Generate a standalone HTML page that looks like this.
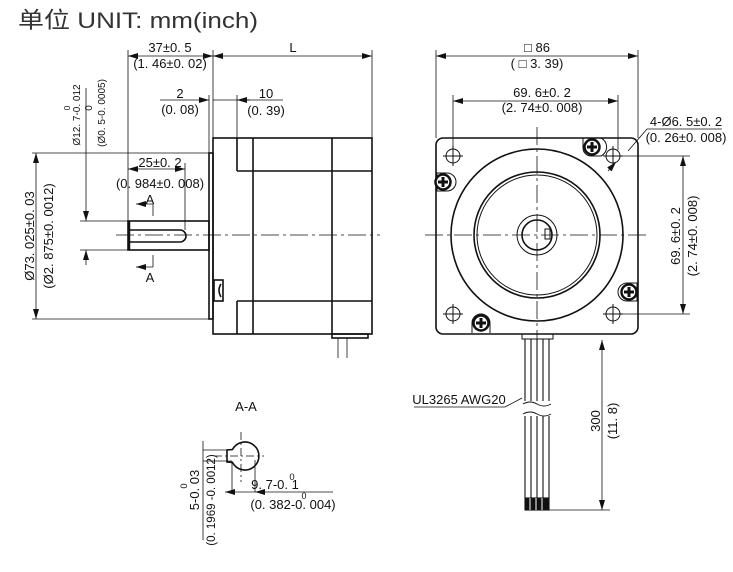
<!DOCTYPE html>
<html><head><meta charset="utf-8"><style>
html,body{margin:0;padding:0;background:#fff;width:733px;height:572px;overflow:hidden}
svg{display:block}
text{font-family:"Liberation Sans","Noto Sans CJK SC",sans-serif;fill:#111}
</style></head><body>
<svg width="733" height="572" viewBox="0 0 733 572" xmlns="http://www.w3.org/2000/svg">
<defs>
<marker id="ar" viewBox="0 0 10 6" refX="10" refY="3" markerWidth="10" markerHeight="6" orient="auto-start-reverse" markerUnits="userSpaceOnUse"><path d="M0,0 L10,3 L0,6z" fill="#111"/></marker>
</defs>
<text x="18" y="28" font-size="22.5" fill="#333" style="fill:#333" textLength="240" lengthAdjust="spacingAndGlyphs">单位 UNIT: mm(inch)</text>

<g stroke="#111" fill="none" stroke-width="0.8">
<line x1="128" y1="50" x2="128" y2="221"/>
<line x1="213" y1="50" x2="213" y2="138"/>
<line x1="372" y1="50" x2="372" y2="138"/>
<line x1="128" y1="56" x2="213" y2="56" marker-start="url(#ar)" marker-end="url(#ar)"/>
<line x1="213" y1="56" x2="372" y2="56" marker-start="url(#ar)" marker-end="url(#ar)"/>
<line x1="160" y1="100" x2="209" y2="100" marker-end="url(#ar)"/>
<line x1="213" y1="100" x2="250" y2="100"/>
<line x1="237" y1="100" x2="283" y2="100"/>
<line x1="250" y1="100" x2="237" y2="100" marker-end="url(#ar)"/>
<line x1="209" y1="95" x2="209" y2="153"/>
<line x1="237" y1="95" x2="237" y2="138"/>
<line x1="128" y1="169" x2="185" y2="169" marker-start="url(#ar)" marker-end="url(#ar)"/>
<line x1="185" y1="163" x2="185" y2="230"/>
<line x1="32" y1="153" x2="209" y2="153"/>
<line x1="32" y1="319" x2="209" y2="319"/>
<line x1="36" y1="153" x2="36" y2="319" marker-start="url(#ar)" marker-end="url(#ar)"/>
<line x1="80" y1="221" x2="128" y2="221"/>
<line x1="80" y1="250" x2="128" y2="250"/>
<line x1="86" y1="88" x2="86" y2="221" marker-end="url(#ar)"/>
<line x1="86" y1="265" x2="86" y2="250" marker-end="url(#ar)"/>
<line x1="116" y1="235" x2="380" y2="235" stroke-dasharray="18,4,3,4"/>
<line x1="136" y1="204" x2="153" y2="204" marker-start="url(#ar)"/>
<line x1="153" y1="204" x2="153" y2="216"/>
<line x1="136" y1="267" x2="153" y2="267" marker-start="url(#ar)"/>
<line x1="153" y1="255" x2="153" y2="267"/>
</g>
<g stroke="#111" fill="none" stroke-width="1.6">
<rect x="213" y="138" width="159" height="196"/>
<rect x="209" y="153" width="4" height="166"/>
<line x1="237" y1="138" x2="237" y2="171"/>
<line x1="237" y1="171" x2="372" y2="171"/>
<line x1="237" y1="301" x2="237" y2="334"/>
<line x1="237" y1="301" x2="372" y2="301"/>
<line x1="253" y1="138" x2="253" y2="334"/>
<line x1="332" y1="138" x2="332" y2="334"/>
<rect x="332" y="334" width="36" height="4"/>
<rect x="214" y="280" width="9" height="21"/>
<path d="M221 284 q-4 6 0 13"/>
<rect x="128" y="221" width="81" height="29"/>
<path d="M128 230 H180 a6 6 0 0 1 0 12 H128"/>
<line x1="129" y1="221" x2="129" y2="250" stroke-width="2.5"/>
</g>
<g stroke="#111" fill="none" stroke-width="0.8">
<line x1="338" y1="338" x2="338" y2="358"/><line x1="347" y1="338" x2="347" y2="358"/>
</g>
<g font-size="13" text-anchor="middle">
<text x="170" y="52">37±0. 5</text>
<text x="170" y="68">(1. 46±0. 02)</text>
<text x="293" y="52">L</text>
<text x="180" y="98">2</text>
<text x="180" y="114">(0. 08)</text>
<text x="266" y="98">10</text>
<text x="266" y="115">(0. 39)</text>
<text x="160" y="167">25±0. 2</text>
<text x="160" y="188">(0. 984±0. 008)</text>
<text x="150" y="204">A</text>
<text x="150" y="282">A</text>
<text transform="translate(34,236) rotate(-90)">Ø73. 025±0. 03</text>
<text transform="translate(53,236) rotate(-90)">(Ø2. 875±0. 0012)</text>
<text transform="translate(80,115) rotate(-90)" font-size="10">Ø12. 7-0. 012</text>
<text transform="translate(70,108) rotate(-90)" font-size="8.5">0</text>
<text transform="translate(92,108) rotate(-90)" font-size="10">0</text>
<text transform="translate(105,113) rotate(-90)" font-size="10">(Ø0. 5-0. 0005)</text>
</g>

<g stroke="#111" fill="none" stroke-width="0.8">
<line x1="436" y1="50" x2="436" y2="138"/>
<line x1="638" y1="50" x2="638" y2="138"/>
<line x1="436" y1="56" x2="638" y2="56" marker-start="url(#ar)" marker-end="url(#ar)"/>
<line x1="453" y1="95" x2="453" y2="150"/>
<line x1="618" y1="95" x2="618" y2="150"/>
<line x1="453" y1="101" x2="618" y2="101" marker-start="url(#ar)" marker-end="url(#ar)"/>
<line x1="618" y1="156" x2="690" y2="156"/>
<line x1="618" y1="314" x2="690" y2="314"/>
<line x1="683" y1="156" x2="683" y2="314" marker-start="url(#ar)" marker-end="url(#ar)"/>
<line x1="425" y1="235" x2="650" y2="235" stroke-dasharray="18,4,3,4"/>
<line x1="537" y1="127" x2="537" y2="345" stroke-dasharray="18,4,3,4"/>
<path d="M722 129 H647 L628 151"/>
<line x1="608" y1="171" x2="616" y2="162" marker-end="url(#ar)"/>
<line x1="549" y1="510" x2="610" y2="510"/>
<line x1="602" y1="340" x2="602" y2="510" marker-start="url(#ar)" marker-end="url(#ar)"/>
<path d="M414 407 H505 L522 398"/>
</g>
<g stroke="#111" fill="none" stroke-width="1.6">
<rect x="436" y="138" width="202" height="196" rx="7"/>
<circle cx="537" cy="235" r="86"/>
<circle cx="537" cy="235" r="63"/>
<circle cx="537" cy="235" r="60" stroke-width="1"/>
<circle cx="537" cy="235" r="20" stroke-width="1"/>
<circle cx="537" cy="235" r="15"/>
<rect x="545" y="229" width="5" height="10" stroke-width="1"/>
<rect x="522" y="334" width="31" height="5" stroke-width="1"/>
</g>
<g stroke="#111" fill="none" stroke-width="1">
<circle cx="453" cy="156" r="7"/><circle cx="613" cy="156" r="7"/>
<circle cx="453" cy="314" r="7"/><circle cx="613" cy="314" r="7"/>
<path d="M443 156h20M453 146v20M603 156h20M613 146v20M443 314h20M453 304v20M603 314h20M613 304v20"/>
<path d="M583 139 v-1 h18 a10 10 0 0 1 0 18 h-10 a8 8 0 0 1 -8 -8z"/>
<path d="M437 173 h10 a9 9 0 0 1 0 18 h-10z"/>
<path d="M637 283 h-10 a9 9 0 0 0 0 18 h10z"/>
<path d="M472 333 v-10 a9 9 0 0 1 18 0 v10"/>
</g>
<g>
<circle cx="592" cy="147" r="7.5" fill="#fff" stroke="#111" stroke-width="2.5"/>
<circle cx="443" cy="182" r="7.5" fill="#fff" stroke="#111" stroke-width="2.5"/>
<circle cx="629" cy="292" r="7.5" fill="#fff" stroke="#111" stroke-width="2.5"/>
<circle cx="481" cy="323" r="7.5" fill="#fff" stroke="#111" stroke-width="2.5"/>
<path d="M587 147h10M592 142v10M438 182h10M443 177v10M624 292h10M629 287v10M476 323h10M481 318v10" stroke="#111" stroke-width="3"/>
</g>
<g stroke="#111" stroke-width="1.1">
<path d="M525 339V401M531 339V401M537 339V401M543 339V401M549 339V401"/>
<path d="M525 416V498M531 416V498M537 416V498M543 416V498M549 416V498"/>
<path d="M523 404 q7 -4 14 0 q7 4 14 0M523 414 q7 -4 14 0 q7 4 14 0" fill="none" stroke-width="0.9"/>
<rect x="525" y="498" width="24" height="12" fill="#111"/>
</g>
<path d="M530 498v12M536 498v12M542 498v12" stroke="#fff" stroke-width="1"/>
<g font-size="13" text-anchor="middle">
<text x="537" y="52">□ 86</text>
<text x="537" y="68">( □ 3. 39)</text>
<text x="542" y="97">69. 6±0. 2</text>
<text x="542" y="112">(2. 74±0. 008)</text>
<text x="686" y="126">4-Ø6. 5±0. 2</text>
<text x="686" y="142">(0. 26±0. 008)</text>
<text transform="translate(680,236) rotate(-90)">69. 6±0. 2</text>
<text transform="translate(697,236) rotate(-90)">(2. 74±0. 008)</text>
<text x="459" y="404">UL3265  AWG20</text>
<text transform="translate(600,421) rotate(-90)">300</text>
<text transform="translate(617,421) rotate(-90)">(11. 8)</text>
</g>

<g stroke="#111" fill="none" stroke-width="0.8">
<line x1="241" y1="432" x2="241" y2="482" stroke-dasharray="8,3,2,3"/>
<line x1="214" y1="456" x2="264" y2="456" stroke-dasharray="8,3,2,3"/>
<line x1="203" y1="450" x2="232" y2="450"/>
<line x1="203" y1="461" x2="232" y2="461"/>
<line x1="203" y1="441" x2="203" y2="540"/>
<line x1="232" y1="461" x2="232" y2="492"/>
<line x1="255" y1="460" x2="255" y2="492"/>
<line x1="225" y1="492" x2="232" y2="492" marker-start="url(#ar)"/>
<line x1="232" y1="492" x2="255" y2="492"/>
<line x1="255" y1="492" x2="333" y2="492" marker-start="url(#ar)"/>
</g>
<path d="M232.5 449.5 A14 14 0 1 1 232.5 462.5 L227 462 L227 450 Z" fill="none" stroke="#111" stroke-width="1.6"/>
<g font-size="13" text-anchor="middle">
<text x="246" y="411">A-A</text>
<text x="275" y="489">9. 7-0. 1</text>
<text x="292" y="480" font-size="9.5">0</text>
<text x="293" y="509">(0. 382-0. 004)</text>
<text x="304" y="499" font-size="9">0</text>
<text transform="translate(199,490) rotate(-90)">5-0. 03</text>
<text transform="translate(187,486) rotate(-90)" font-size="9.5">0</text>
<text transform="translate(215,500) rotate(-90)" font-size="11.5">(0. 1969 -0. 0012)</text>
</g>
</svg>
</body></html>
